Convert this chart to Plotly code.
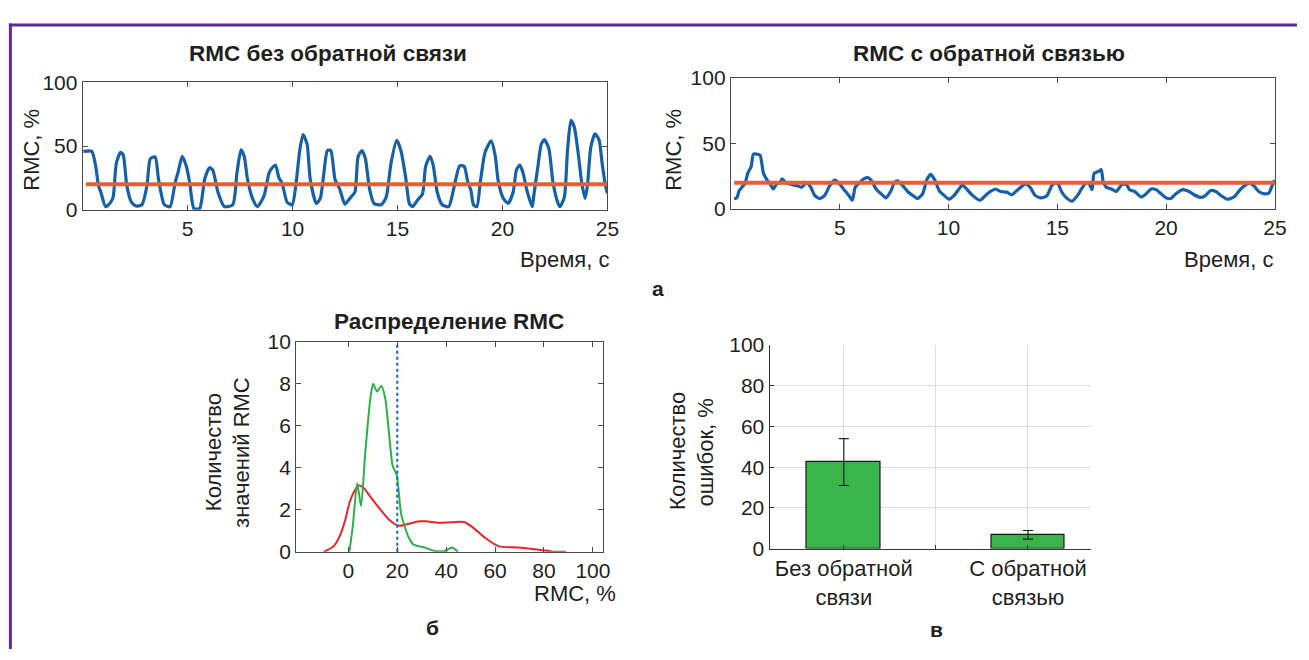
import plotly.graph_objects as go

# ---------------- data ----------------
# RMC without feedback (time, s ; RMC, %)
t_nofb = [0.03, 0.43, 0.62, 0.75, 0.86, 1.09, 1.33, 1.45, 1.6, 1.8, 1.93, 2.1, 2.32, 2.54, 2.82,
          3.06, 3.22, 3.45, 3.61, 3.89, 4.16, 4.4, 4.55, 4.74, 4.94, 5.1, 5.3, 5.57, 5.81, 6.04,
          6.2, 6.44, 6.75, 7.15, 7.35, 7.54, 7.7, 7.85, 8.09, 8.32, 8.64, 8.88, 9.03, 9.19, 9.35,
          9.5, 9.74, 9.98, 10.18, 10.34, 10.5, 10.69, 10.84, 11.13, 11.32, 11.47, 11.66, 11.82,
          12.02, 12.25, 12.49, 12.73, 12.97, 13.12, 13.31, 13.47, 13.67, 13.88, 14.22, 14.46,
          14.69, 14.96, 15.16, 15.4, 15.56, 15.71, 15.95, 16.19, 16.34, 16.55, 16.7, 16.89,
          17.13, 17.44, 17.71, 17.96, 18.18, 18.34, 18.5, 18.62, 18.78, 18.94, 19.17, 19.46,
          19.65, 19.8, 20.04, 20.27, 20.51, 20.67, 20.83, 20.98, 21.17, 21.42, 21.5, 21.69,
          21.85, 22.0, 22.21, 22.4, 22.63, 22.74, 22.95, 23.1, 23.26, 23.42, 23.63, 23.78,
          23.94, 24.05, 24.21, 24.41, 24.6, 24.75, 24.91, 25.0]
rmc_nofb = [45.8, 45.8, 34, 19, 14, 2.5, 6, 10, 36.5, 45, 43, 19, 6, 3, 4,
            19, 40, 41.5, 24, 4, 2.5, 21, 30, 42, 34, 21, 1, 1, 24, 33,
            31, 14, 2.5, 4, 29, 47, 41.5, 24, 9, 2.5, 11, 29, 33, 35, 25,
            21, 6, 4, 23, 46.5, 59, 51.5, 24, 5, 9, 26, 46.5, 46.5,
            24, 16, 4.5, 9, 14, 41.5, 46.5, 40, 16, 5, 4, 10,
            36.5, 54.5, 46.5, 24, 5, 2.5, 7.5, 12.5, 34, 42, 35, 14,
            4, 2.5, 19, 34.5, 34, 22.5, 15, 4, 2.5, 21, 45, 54,
            43, 22.5, 9, 5, 14, 31.5, 35, 29, 15, 2.5, 12, 34,
            51.5, 55, 48, 22.5, 6, 2.5, 10, 46.5, 70, 65, 41.5, 21,
            9, 19, 49, 59.5, 55, 36.5, 19, 13]

# RMC with feedback
t_fb = [0.15, 0.27, 0.38, 0.53, 0.65, 0.78, 0.93, 1.03, 1.19, 1.34, 1.49, 1.64, 1.8, 1.95, 2.1,
        2.25, 2.36, 2.51, 2.71, 2.86, 3.06, 3.25, 3.47, 3.67, 3.85, 4.08, 4.31, 4.54, 4.77,
        5.0, 5.23, 5.42, 5.58, 5.71, 5.91, 6.14, 6.32, 6.47, 6.67, 6.9, 7.13, 7.36, 7.51,
        7.66, 7.89, 8.12, 8.35, 8.58, 8.81, 9.01, 9.19, 9.37, 9.57, 9.8, 10.03, 10.26, 10.48,
        10.64, 10.83, 11.1, 11.45, 11.7, 11.93, 12.16, 12.39, 12.68, 12.91, 13.14, 13.37,
        13.55, 13.75, 13.98, 14.25, 14.51, 14.74, 14.89, 15.04, 15.19, 15.42, 15.68, 15.93,
        16.11, 16.29, 16.44, 16.6, 16.69, 16.9, 17.02, 17.1, 17.25, 17.48, 17.71, 17.94,
        18.16, 18.32, 18.55, 18.85, 19.08, 19.31, 19.54, 19.77, 20.0, 20.22, 20.45, 20.76,
        21.06, 21.29, 21.56, 21.78, 22.05, 22.28, 22.51, 22.81, 23.12, 23.43, 23.81, 24.03,
        24.26, 24.52, 24.72, 24.87, 25.0]
rmc_fb = [7.9, 8.4, 14, 17, 19.7, 27.5, 32.4, 41.8, 41.8, 41, 27.5, 22.6, 19, 15.2, 19,
          20, 23, 20, 19, 18.2, 17.7, 16.5, 20, 16.5, 10.3, 7.9, 10.3, 17.7, 22,
          19, 14, 10.3, 6.6, 16.5, 20, 23.3, 23.8, 21.4, 15.2, 11.5, 8.4, 14, 20,
          21.4, 17.7, 13.3, 10.3, 7.9, 11.5, 22.6, 26.3, 22, 14, 10.3, 7.4, 10.3, 15.2,
          18.2, 15.2, 10.3, 6.6, 10.3, 13.3, 15.2, 13.3, 12.8, 10.8, 14, 17.2,
          19, 16.5, 10.3, 8.4, 9.8, 17.7, 19.7, 19, 13.3, 8.4, 5.9, 10.3,
          15.2, 19.4, 19.7, 14.7, 27, 28.7, 30, 21.4, 16.5, 15.2, 13.3, 18.2,
          19, 14.7, 13.3, 9.1, 11.5, 15.2, 14.7, 11.5, 8.4, 7.9, 11.5, 14.7,
          13.3, 10.8, 8.8, 9.8, 14, 13.3, 10.3, 7.4, 9.1, 15.2, 19.7, 17.7,
          13.3, 11.5, 12, 17.7, 22]

threshold = 20
t_span = [0.15, 25]

# RMC distribution (density curves)
dist_x_nofb = [-10.1, -6.0, -3.3, -1.3, 0.7, 2.8, 4.1, 6.1, 8.8, 12.9, 16.9, 20.7, 23.6, 29.0,
               31.7, 37.1, 42.5, 47.2, 50.6, 56.0, 61.4, 69.5, 76.2, 83.0, 89.0]
dist_y_nofb = [0, 0.27, 0.81, 1.5, 2.42, 2.95, 3.16, 3.06, 2.65, 2.04, 1.5, 1.24, 1.3, 1.45,
               1.45, 1.38, 1.41, 1.42, 1.19, 0.66, 0.27, 0.2, 0.12, 0.02, 0]
dist_x_fb = [0.4, 1.8, 3.6, 5.2, 6.9, 9.0, 10.1, 11.7, 13.5, 15.1, 16.5, 18.1, 19.8, 21.6,
             24.5, 26.6, 28.6, 31.3, 35.3, 39.4, 42.4, 44.8]
dist_y_fb = [0, 1.2, 3.26, 2.17, 4.7, 7.3, 8.0, 7.63, 7.9, 7.3, 5.8, 4.1, 3.65, 1.8,
             0.73, 0.35, 0.27, 0.2, 0.04, 0.04, 0.2, 0]

# Error counts
bar_labels = ["Без обратной<br>связи", "С обратной<br>связью"]
bar_pos = [1, 2]
bar_values = [42.5, 6.8]
bar_errors = [11.5, 2.1]

# ---------------- figure ----------------
W, H = 1309, 660
FONT = "Liberation Sans, Arial, sans-serif"
TXT = "#231f20"
AX = "#4a4a4a"


def px(x):
    return x / W


def py(y):
    return 1 - y / H


BLUE = "#1660aa"
ORANGE = "#e0603a"

fig = go.Figure()

fig.add_trace(go.Scatter(x=t_nofb, y=rmc_nofb, mode="lines", xaxis="x", yaxis="y",
                         line=dict(color=BLUE, width=3.2, shape="spline", smoothing=0.6),
                         showlegend=False))
fig.add_trace(go.Scatter(x=t_span, y=[threshold, threshold], mode="lines", xaxis="x", yaxis="y",
                         line=dict(color=ORANGE, width=4), showlegend=False))

fig.add_trace(go.Scatter(x=t_fb, y=rmc_fb, mode="lines", xaxis="x2", yaxis="y2",
                         line=dict(color=BLUE, width=3.2, shape="spline", smoothing=0.6),
                         showlegend=False))
fig.add_trace(go.Scatter(x=t_span, y=[threshold, threshold], mode="lines", xaxis="x2", yaxis="y2",
                         line=dict(color=ORANGE, width=4), showlegend=False))

fig.add_trace(go.Scatter(x=dist_x_nofb, y=dist_y_nofb, mode="lines", xaxis="x3", yaxis="y3",
                         line=dict(color="#e8242b", width=2, shape="spline", smoothing=0.8),
                         showlegend=False))
fig.add_trace(go.Scatter(x=dist_x_fb, y=dist_y_fb, mode="lines", xaxis="x3", yaxis="y3",
                         line=dict(color="#2bb04a", width=2, shape="spline", smoothing=0.6),
                         showlegend=False))
fig.add_trace(go.Scatter(x=[threshold, threshold], y=[0, 10], mode="lines", xaxis="x3", yaxis="y3",
                         line=dict(color="#1a73c6", width=2.2, dash="3px,3px"),
                         showlegend=False))

fig.add_trace(go.Bar(x=bar_pos, y=bar_values, width=0.4, xaxis="x4", yaxis="y4",
                     marker=dict(color="#3ab54a", line=dict(color="#1a1a1a", width=1.2)),
                     error_y=dict(type="data", array=bar_errors, color="#222", thickness=1.2, width=5),
                     showlegend=False))

tickfont = dict(family=FONT, size=21, color=TXT)
box = dict(showline=True, linecolor=AX, linewidth=1.2, mirror="ticks", ticks="inside",
           ticklen=5, tickcolor=AX, tickwidth=1.2, showgrid=False, zeroline=False,
           tickfont=tickfont, fixedrange=True)

fig.update_layout(
    width=W, height=H, margin=dict(l=0, r=0, t=0, b=0, pad=0),
    paper_bgcolor="white", plot_bgcolor="white",
    xaxis=dict(box, domain=[px(83.5), px(613)], range=[0, 25], tickvals=[5, 10, 15, 20, 25],
               anchor="y"),
    yaxis=dict(box, domain=[py(205), py(72.7)], range=[0, 100], tickvals=[0, 50, 100],
               anchor="x"),
    xaxis2=dict(box, domain=[px(737.7), px(1286.7)], range=[0, 25], tickvals=[5, 10, 15, 20, 25],
                anchor="y2"),
    yaxis2=dict(box, domain=[py(204), py(68.3)], range=[0, 100], tickvals=[0, 50, 100],
                anchor="x2"),
    xaxis3=dict(box, domain=[px(299), px(609)], range=[-21.3, 104.3],
                tickvals=[0, 20, 40, 60, 80, 100], anchor="y3"),
    yaxis3=dict(box, domain=[py(559.3), py(341.7)], range=[0, 10],
                tickvals=[0, 2, 4, 6, 8, 10], anchor="x3"),
    xaxis4=dict(domain=[px(776.7), px(1100.7)], range=[0.597, 2.34], anchor="y4",
                tickvals=[1, 1.5, 2], ticktext=[bar_labels[0], "", bar_labels[1]],
                showline=True, linecolor="#333", linewidth=1.2, ticks="inside", ticklen=4,
                tickcolor="#333", showgrid=True, gridcolor="#dedede", gridwidth=1,
                zeroline=False, tickfont=dict(family=FONT, size=22, color=TXT), fixedrange=True),
    yaxis4=dict(domain=[py(556), py(345)], range=[0, 100], anchor="x4",
                tickvals=[0, 20, 40, 60, 80, 100],
                showline=True, linecolor="#333", linewidth=1.2, ticks="inside", ticklen=4,
                tickcolor="#333", showgrid=True, gridcolor="#dedede", gridwidth=1,
                zeroline=False, tickfont=tickfont, fixedrange=True),
    bargap=0,
)

anns = []


def label(x, y, text, size=22, bold=False, angle=0, xanchor="center"):
    anns.append(dict(xref="paper", yref="paper", x=px(x), y=py(y), text=text, showarrow=False,
                     xanchor=xanchor, yanchor="middle", textangle=angle,
                     font=dict(family=FONT, size=size, color=TXT,
                               weight="bold" if bold else "normal")))


label(331, 43, "RMC без обратной связи", size=22.5, bold=True)
label(998, 43, "RMC с обратной связью", size=22.5, bold=True)
label(31, 143, "RMC, %", angle=-90)
label(679, 143, "RMC, %", angle=-90)
label(617, 256, "Время, с", xanchor="right")
label(1287, 256, "Время, с", xanchor="right")
label(664, 287, "а", size=21, bold=True)

label(453, 321, "Распределение RMC", size=22.5, bold=True)
label(215, 456, "Количество", angle=-90)
label(243, 456, "значений RMC", angle=-90)
label(580, 603, "RMC, %")
label(437, 638, "б", size=21, bold=True)

label(683, 455, "Количество", angle=-90)
label(712, 456, "ошибок, %", angle=-90)
label(945, 640, "в", size=21, bold=True)

fig.update_layout(annotations=anns)

# purple frame
fig.update_layout(shapes=[
    dict(type="line", xref="paper", yref="paper", x0=px(9), x1=1.0, y0=py(13.5), y1=py(13.5),
         line=dict(color="#5b2d90", width=3)),
    dict(type="line", xref="paper", yref="paper", x0=px(10.5), x1=px(10.5), y0=py(12), y1=0,
         line=dict(color="#5b2d90", width=3)),
])

fig.write_html("out.html", config={"displayModeBar": False},
               post_script="document.body.style.margin='0';")
